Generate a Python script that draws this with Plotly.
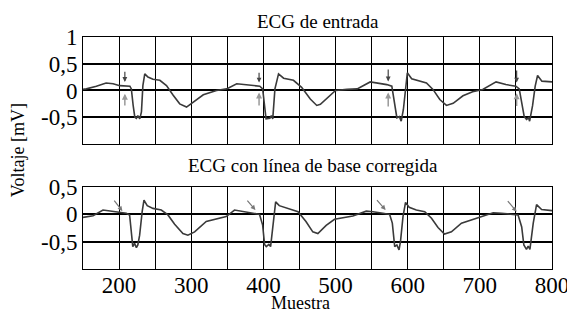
import plotly.graph_objects as go

# ---------------- data ----------------
top_x = [150, 154.6, 168.5, 182, 191.7, 201, 215, 217, 219.5, 221.8, 224, 226, 228.7, 231, 233, 235.6,
         240, 247, 256.5, 265.7, 275, 284, 293.5, 302.8, 316.7, 335, 349, 363, 377, 395, 399, 402,
         403.7, 409, 411, 413, 416, 421, 428, 441.7, 453, 465, 474, 479, 488.5, 500, 516, 530, 548,
         562, 571, 578, 582.5, 585, 588.5, 591, 594, 597, 599.5, 605.5, 617, 626, 635, 644.5, 653.7,
         663, 676.6, 690, 704, 722.5, 736, 750, 754.6, 759, 761.5, 764.7, 767.5, 769, 773, 776.7,
         780, 786, 798, 800]
top_y = [0.02, 0.03, 0.08, 0.14, 0.125, 0.09, 0.08, 0.03, -0.28, -0.5, -0.52, -0.47, -0.53, -0.4, 0.09, 0.31,
         0.25, 0.21, 0.19, 0.09, -0.09, -0.25, -0.31, -0.22, -0.08, 0.0, 0.03, 0.125, 0.1, 0.08, 0.03, -0.4,
         -0.53, -0.52, -0.47, -0.53, 0.03, 0.31, 0.23, 0.19, 0.06, -0.16, -0.28, -0.26, -0.14, 0.0, 0.02, 0.03, 0.16,
         0.13, 0.11, 0.08, -0.29, -0.51, -0.49, -0.575, -0.36, 0.08, 0.33, 0.22, 0.175, 0.14, 0.02, -0.17, -0.28,
         -0.24, -0.1, -0.025, 0.02, 0.16, 0.11, 0.08, 0.03, -0.29, -0.49, -0.54, -0.51, -0.575, -0.29, 0.08,
         0.28, 0.175, 0.16, 0.16]

bot_x = [150, 164, 177.7, 191.5, 200, 210, 214.6, 217, 219, 221.5, 224, 226, 228.5, 232, 234.5, 239,
         247, 258.5, 267.7, 277, 288.5, 295.4, 304.7, 320.8, 334.6, 348.5, 360, 371.6, 385.5, 394.7,
         399, 401.6, 404, 407.6, 410, 413, 417, 422, 436, 448, 459, 468.5, 475.5, 482.5, 487, 498.6,
         510, 524, 542.6, 552, 565.7, 575, 578.7, 582, 585, 588, 590, 593.5, 597, 602, 612, 623.6, 633,
         642, 651, 660.6, 674.5, 690.7, 704.6, 718.5, 730, 746, 753, 758, 761, 764.6, 767, 769.4, 774,
         778.6, 785.6, 800]
bot_y = [-0.055, -0.025, 0.08, 0.06, 0.035, 0.02, -0.01, -0.32, -0.59, -0.53, -0.61, -0.56, -0.38, 0.05, 0.26, 0.16,
         0.11, 0.08, -0.01, -0.18, -0.35, -0.38, -0.32, -0.13, -0.085, -0.04, 0.08, 0.05, 0.02, 0.0,
         -0.195, -0.55, -0.59, -0.55, -0.59, -0.195, 0.23, 0.16, 0.1, 0.05, -0.13, -0.32, -0.35, -0.26, -0.2, -0.09,
         -0.06, -0.03, 0.06, 0.05, 0.02, 0.0, -0.16, -0.59, -0.56, -0.65, -0.5, -0.04, 0.22, 0.13, 0.08, 0.05, -0.07,
         -0.24, -0.36, -0.32, -0.16, -0.09, -0.04, 0.03, 0.02, 0.0, -0.01, -0.23, -0.56, -0.64, -0.58, -0.64, -0.16,
         0.18, 0.09, 0.07]

# arrow markers
top_arrow_x = [208, 394, 573, 751]
top_down_from = [0.38, 0.36, 0.42, 0.40]
top_down_to = [0.16, 0.15, 0.17, 0.15]
top_up_from = [-0.31, -0.31, -0.33, -0.32]
top_up_to = [-0.06, -0.04, -0.04, -0.05]

bot_arrow_x0 = [191.7, 376, 555.6, 737]
bot_arrow_x1 = [204.6, 389, 569.4, 751]
bot_arrow_y0 = [0.28, 0.28, 0.29, 0.27]
bot_arrow_y1 = [0.06, 0.08, 0.08, 0.05]

x_tick_vals = [200, 250, 300, 350, 400, 450, 500, 550, 600, 650, 700, 750, 800]
x_tick_text = ["200", "", "300", "", "400", "", "500", "", "600", "", "700", "", "800"]
top_y_vals = [1, 0.5, 0, -0.5]
top_y_text = ["1", "0,5", "0", "-0,5"]
bot_y_vals = [0.5, 0, -0.5]
bot_y_text = ["0,5", "0", "-0,5"]

titles = ["ECG de entrada", "ECG con línea de base corregida"]

# ---------------- figure ----------------
FONT = "Liberation Serif, Times New Roman, serif"
line_col = "#3a3a3a"

fig = go.Figure()
fig.add_trace(go.Scatter(x=top_x, y=top_y, mode="lines", line=dict(color=line_col, width=1.6),
                         xaxis="x", yaxis="y", showlegend=False, hoverinfo="skip"))
fig.add_trace(go.Scatter(x=bot_x, y=bot_y, mode="lines", line=dict(color=line_col, width=1.6),
                         xaxis="x2", yaxis="y2", showlegend=False, hoverinfo="skip"))

common_x = dict(range=[150, 800], tickvals=x_tick_vals, showgrid=True, gridcolor="black", gridwidth=1.3,
                showline=True, linecolor="black", linewidth=1, mirror=True, zeroline=False, ticks="",
                tickfont=dict(family=FONT, size=23, color="black"), fixedrange=True, automargin=False,
                ticklabeloverflow="allow")
common_y = dict(showgrid=True, gridcolor="black", gridwidth=1.8, showline=True, linecolor="black",
                linewidth=1, mirror=True, zeroline=False, ticks="",
                tickfont=dict(family=FONT, size=23, color="black"), fixedrange=True, automargin=False)

annotations = []
for xi, d0, d1, u0, u1 in zip(top_arrow_x, top_down_from, top_down_to, top_up_from, top_up_to):
    annotations.append(dict(x=xi, y=d1, ax=xi, ay=d0, xref="x", yref="y", axref="x", ayref="y",
                            showarrow=True, arrowhead=2, arrowsize=0.8, arrowwidth=1.2,
                            arrowcolor="#444", text=""))
    annotations.append(dict(x=xi, y=u1, ax=xi, ay=u0, xref="x", yref="y", axref="x", ayref="y",
                            showarrow=True, arrowhead=2, arrowsize=0.8, arrowwidth=1.5,
                            arrowcolor="#999", text=""))
for x0, x1, y0, y1 in zip(bot_arrow_x0, bot_arrow_x1, bot_arrow_y0, bot_arrow_y1):
    annotations.append(dict(x=x1, y=y1, ax=x0, ay=y0, xref="x2", yref="y2", axref="x2", ayref="y2",
                            showarrow=True, arrowhead=2, arrowsize=0.8, arrowwidth=1.2,
                            arrowcolor="#777", text=""))

annotations += [
    dict(text=titles[0], x=0.501, y=1.065, xref="paper", yref="paper", showarrow=False,
         xanchor="center", yanchor="middle", font=dict(family=FONT, size=19, color="black")),
    dict(text=titles[1], x=0.49, y=0.448, xref="paper", yref="paper", showarrow=False,
         xanchor="center", yanchor="middle", font=dict(family=FONT, size=19, color="black")),
    dict(text="Muestra", x=0.463, y=-0.146, xref="paper", yref="paper", showarrow=False,
         xanchor="center", yanchor="middle", font=dict(family=FONT, size=18, color="black")),
    dict(text="Voltaje [mV]", x=-0.138, y=0.513, xref="paper", yref="paper", showarrow=False,
         textangle=-90, xanchor="center", yanchor="middle", font=dict(family=FONT, size=18, color="black")),
]

# the page body adds an 8 px offset, so the figure is sized to fit the 575x319 window
fig.update_layout(
    width=567, height=311,
    margin=dict(l=75, r=23, t=29, b=50, autoexpand=False),
    paper_bgcolor="white", plot_bgcolor="white",
    xaxis=dict(common_x, domain=[0, 1], anchor="y", showticklabels=False),
    yaxis=dict(common_y, domain=[0.539, 1], range=[-1, 1], tickvals=top_y_vals, ticktext=top_y_text, anchor="x"),
    xaxis2=dict(common_x, domain=[0, 1], anchor="y2", ticktext=x_tick_text, ticklabelstandoff=-5),
    yaxis2=dict(common_y, domain=[0, 0.353], range=[-1, 0.5], tickvals=bot_y_vals, ticktext=bot_y_text, anchor="x2"),
    annotations=annotations,
)

fig.write_html("out.html")
